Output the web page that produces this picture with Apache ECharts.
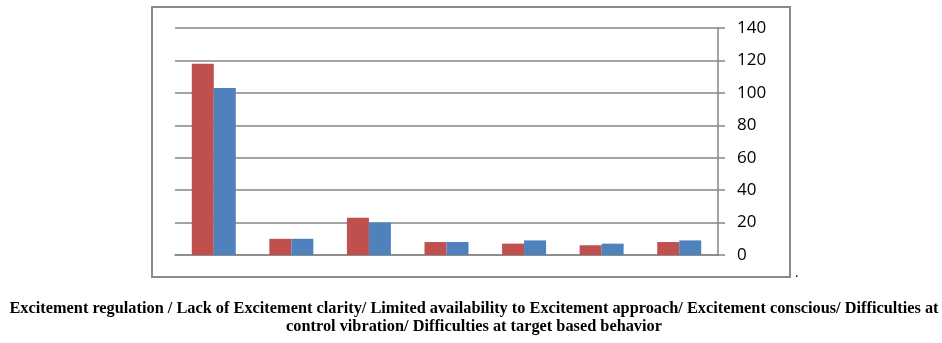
<!DOCTYPE html>
<html><head><meta charset="utf-8">
<script src="https://cdn.jsdelivr.net/npm/echarts@6/dist/echarts.min.js"></script>
<style>html,body{margin:0;padding:0;background:#fff}#c{width:942px;height:343px}</style>
</head><body><div id="c"></div>
<script>
var categories = ["1","2","3","4","5","6","7"];
var seriesRed = [118, 10, 23, 8, 7, 6, 8];
var seriesBlue = [103, 10, 20, 8, 9, 7, 9];
var yTicks = [0, 20, 40, 60, 80, 100, 120, 140];
var captionLine1 = "Excitement regulation / Lack of Excitement clarity/ Limited availability to Excitement approach/ Excitement conscious/ Difficulties at";
var captionLine2 = "control vibration/ Difficulties at target based behavior";

var chart = echarts.init(document.getElementById('c'), null, {renderer:'canvas'});
chart.setOption({
  animation: false,
  backgroundColor: '#fff',
  grid: {left: 175, right: 224, top: 28, bottom: 88},
  xAxis: {
    type: 'category', data: categories,
    axisLine: {show: true, lineStyle: {color: '#868686', width: 1.5}},
    axisTick: {show: false}, axisLabel: {show: false}
  },
  yAxis: {
    type: 'value', position: 'right', min: yTicks[0], max: yTicks[yTicks.length-1], interval: 20,
    axisLine: {show: true, lineStyle: {color: '#868686', width: 1.5}},
    axisTick: {show: true, length: 7, lineStyle: {color: '#868686', width: 1.5}},
    axisLabel: {margin: 19, color: '#000', fontFamily: 'Open Sans', fontSize: 17},
    splitLine: {show: true, lineStyle: {color: '#868686', width: 1.5}}
  },
  series: [
    {type: 'bar', data: seriesRed, barWidth: 22, barGap: '0%', itemStyle: {color: '#C0504D'}},
    {type: 'bar', data: seriesBlue, barWidth: 22, barGap: '0%', itemStyle: {color: '#4F81BD'}}
  ],
  graphic: [
    {type: 'rect', shape: {x: 152, y: 7, width: 638, height: 270}, style: {fill: 'none', stroke: '#8a8a8a', lineWidth: 2}},
    {type: 'text', x: 795, y: 266, style: {text: '.', font: '14px "Liberation Serif"', fill: '#000'}},
    {type: 'text', x: 474, y: 309, scaleX: 1.02, originX: 0, style: {text: captionLine1, font: 'bold 16px "Liberation Serif"', fill: '#000', textAlign: 'center', textVerticalAlign: 'middle'}},
    {type: 'text', x: 474, y: 327, scaleX: 1.02, originX: 0, style: {text: captionLine2, font: 'bold 16px "Liberation Serif"', fill: '#000', textAlign: 'center', textVerticalAlign: 'middle'}}
  ]
});
</script></body></html>
